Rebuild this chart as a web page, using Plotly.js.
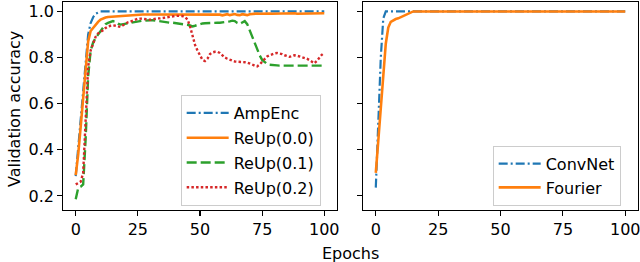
<!DOCTYPE html>
<html>
<head>
<meta charset="utf-8">
<script src="https://cdn.plot.ly/plotly-3.0.1.min.js"></script>
<style>html,body{margin:0;padding:0;background:#fff;}#chart{width:640px;height:262px;}</style>
</head>
<body>
<div id="chart"></div>
<script>
const epochs = [0,1,2,3,4,5,6,7,8,9,10,11,12,13,14,15,16,17,18,19,20,21,22,23,24,25,26,27,28,29,30,31,32,33,34,35,36,37,38,39,40,41,42,43,44,45,46,47,48,49,50,51,52,53,54,55,56,57,58,59,60,61,62,63,64,65,66,67,68,69,70,71,72,73,74,75,76,77,78,79,80,81,82,83,84,85,86,87,88,89,90,91,92,93,94,95,96,97,98,99,100];

const ampEnc = [
0.286,0.41,0.54,0.66,0.78,0.90,0.95,0.975,0.99,0.996,
1.0,1.0,1.0,0.999,1.0,1.0,1.0,1.0,0.999,1.0,
1.0,1.0,1.0,1.0,1.0,0.999,1.0,1.0,1.0,1.0,
1.0,1.0,0.999,1.0,1.0,1.0,1.0,1.0,1.0,0.999,
1.0,1.0,1.0,1.0,1.0,1.0,0.999,1.0,1.0,1.0,
1.0,1.0,1.0,1.0,1.0,0.998,1.0,1.0,1.0,1.0,
1.0,1.0,0.999,1.0,1.0,1.0,1.0,1.0,0.999,1.0,
1.0,1.0,1.0,1.0,1.0,1.0,1.0,0.998,1.0,1.0,
1.0,1.0,1.0,1.0,0.999,1.0,1.0,1.0,1.0,1.0,
1.0,0.999,1.0,1.0,1.0,1.0,1.0,1.0,1.0,1.0,
1.0];

const reUp00 = [
0.29,0.38,0.50,0.63,0.76,0.87,0.915,0.93,0.945,0.955,
0.965,0.97,0.974,0.976,0.977,0.977,0.978,0.978,0.979,0.979,
0.98,0.981,0.982,0.983,0.984,0.985,0.986,0.987,0.987,0.987,
0.987,0.987,0.986,0.987,0.987,0.987,0.986,0.987,0.987,0.987,
0.987,0.986,0.987,0.987,0.987,0.987,0.986,0.987,0.988,0.988,
0.988,0.988,0.987,0.988,0.988,0.987,0.988,0.987,0.986,0.983,
0.985,0.988,0.984,0.986,0.989,0.985,0.984,0.988,0.986,0.984,
0.988,0.99,0.99,0.991,0.99,0.991,0.99,0.991,0.991,0.99,
0.991,0.991,0.99,0.991,0.991,0.992,0.991,0.991,0.992,0.99,
0.99,0.989,0.99,0.99,0.991,0.991,0.99,0.992,0.992,0.992,
0.992];

const reUp01 = [
0.186,0.235,0.24,0.25,0.45,0.72,0.83,0.865,0.885,0.90,
0.92,0.935,0.945,0.95,0.955,0.958,0.955,0.947,0.943,0.945,
0.947,0.95,0.952,0.953,0.955,0.957,0.958,0.96,0.96,0.962,
0.962,0.962,0.96,0.958,0.956,0.954,0.953,0.952,0.951,0.951,
0.95,0.949,0.948,0.946,0.944,0.942,0.939,0.935,0.938,0.942,
0.946,0.948,0.949,0.95,0.95,0.951,0.951,0.951,0.951,0.952,
0.953,0.955,0.957,0.96,0.958,0.95,0.946,0.952,0.958,0.945,
0.918,0.89,0.86,0.835,0.81,0.79,0.78,0.772,0.769,0.767,
0.766,0.766,0.765,0.765,0.765,0.765,0.765,0.764,0.764,0.764,
0.764,0.764,0.764,0.764,0.764,0.764,0.765,0.765,0.765,0.765,
0.765];

const reUp02 = [
0.25,0.255,0.262,0.30,0.55,0.76,0.83,0.865,0.89,0.905,
0.91,0.918,0.928,0.935,0.938,0.94,0.938,0.934,0.933,0.94,
0.948,0.953,0.956,0.96,0.965,0.969,0.969,0.967,0.965,0.964,
0.964,0.966,0.969,0.97,0.97,0.972,0.975,0.977,0.979,0.98,
0.98,0.981,0.981,0.98,0.975,0.965,0.935,0.895,0.855,0.83,
0.81,0.79,0.785,0.795,0.815,0.822,0.825,0.825,0.82,0.81,
0.80,0.795,0.79,0.785,0.783,0.782,0.782,0.781,0.78,0.778,
0.775,0.77,0.765,0.762,0.77,0.782,0.795,0.805,0.81,0.815,
0.818,0.82,0.818,0.815,0.81,0.805,0.803,0.806,0.81,0.808,
0.805,0.803,0.80,0.795,0.789,0.78,0.775,0.785,0.80,0.812,
0.82];

const convNet = [
0.236,0.55,0.80,0.97,1.0,1.0,1.0,1.0,1.0,1.0,
1.0,1.0,1.0,1.0,1.0,1.0,1.0,1.0,1.0,1.0,
1.0,1.0,1.0,1.0,1.0,1.0,1.0,1.0,1.0,1.0,
1.0,1.0,1.0,1.0,1.0,1.0,1.0,1.0,1.0,1.0,
1.0,1.0,1.0,1.0,1.0,1.0,1.0,1.0,1.0,1.0,
1.0,1.0,1.0,1.0,1.0,1.0,1.0,1.0,1.0,1.0,
1.0,1.0,1.0,1.0,1.0,1.0,1.0,1.0,1.0,1.0,
1.0,1.0,1.0,1.0,1.0,1.0,1.0,1.0,1.0,1.0,
1.0,1.0,1.0,1.0,1.0,1.0,1.0,1.0,1.0,1.0,
1.0,1.0,1.0,1.0,1.0,1.0,1.0,1.0,1.0,1.0,
1.0];

const fourier = [
0.30,0.43,0.57,0.72,0.86,0.93,0.955,0.962,0.967,0.970,
0.975,0.98,0.986,0.99,0.995,1.0,1.0,1.0,1.0,1.0,
1.0,1.0,1.0,1.0,1.0,1.0,1.0,1.0,1.0,1.0,
1.0,1.0,1.0,1.0,1.0,1.0,1.0,1.0,1.0,1.0,
1.0,1.0,1.0,1.0,1.0,1.0,1.0,1.0,1.0,1.0,
1.0,1.0,1.0,1.0,1.0,1.0,1.0,1.0,1.0,1.0,
1.0,1.0,1.0,1.0,1.0,1.0,1.0,1.0,1.0,1.0,
1.0,1.0,1.0,1.0,1.0,1.0,1.0,1.0,1.0,1.0,
1.0,1.0,1.0,1.0,1.0,1.0,1.0,1.0,1.0,1.0,
1.0,1.0,1.0,1.0,1.0,1.0,1.0,1.0,1.0,1.0,
1.0];

const xTicks = [0,25,50,75,100];
const yTicks = [0.2,0.4,0.6,0.8,1.0];
const yTickLabels = ['0.2','0.4','0.6','0.8','1.0'];
const leftNames = ['AmpEnc','ReUp(0.0)','ReUp(0.1)','ReUp(0.2)'];
const rightNames = ['ConvNet','Fourier'];

const C = {blue:'#1f77b4', orange:'#ff7f0e', green:'#2ca02c', red:'#d62728'};
const FS = 16;

function tr(y, name, color, dash, width, xa, ya, leg, grp){
  return {x: epochs, y: y, name: name, type:'scatter', mode:'lines',
    line:{color:color, dash:dash, width:width}, xaxis:xa, yaxis:ya,
    legend: leg, legendgroup: grp, hoverinfo:'skip'};
}

const data = [
  tr(ampEnc, leftNames[0], C.blue, '9px,3px,2px,3px', 2.2, 'x','y','legend','a'),
  tr(reUp00, leftNames[1], C.orange, 'solid', 2.6, 'x','y','legend','b'),
  tr(reUp01, leftNames[2], C.green, '10px,4px', 2.4, 'x','y','legend','c'),
  tr(reUp02, leftNames[3], C.red, '2.5px,2.2px', 2.4, 'x','y','legend','d'),
  tr(convNet, rightNames[0], C.blue, '9px,3px,2px,3px', 2.2, 'x2','y2','legend2','e'),
  tr(fourier, rightNames[1], C.orange, 'solid', 2.6, 'x2','y2','legend2','f')
];

const axBase = {showline:true, mirror:true, linecolor:'#000', linewidth:1.1,
  ticks:'outside', ticklen:5, tickwidth:1.1, tickcolor:'#000',
  showgrid:false, zeroline:false, fixedrange:true, tickfont:{size:FS},
  ticklabeloverflow:'allow'};

const layout = {
  width:640, height:262,
  margin:{l:0,r:0,t:0,b:0},
  paper_bgcolor:'#fff', plot_bgcolor:'#fff',
  font:{family:'DejaVu Sans', size:FS, color:'#000'},
  xaxis: Object.assign({}, axBase, {domain:[0.0989,0.5261], range:[-5,105], tickvals:xTicks, anchor:'y'}),
  yaxis: Object.assign({}, axBase, {domain:[0.1985,0.9924], range:[0.139,1.041], tickvals:yTicks, ticktext:yTickLabels, anchor:'x'}),
  xaxis2: Object.assign({}, axBase, {domain:[0.5677,0.9964], range:[-5,105], tickvals:xTicks, anchor:'y2'}),
  yaxis2: Object.assign({}, axBase, {domain:[0.1985,0.9924], range:[0.139,1.041], tickvals:yTicks, showticklabels:false, anchor:'x2'}),
  legend:{x:0.2823, y:0.6375, xanchor:'left', yanchor:'top', bgcolor:'rgba(255,255,255,0.8)',
    bordercolor:'#cccccc', borderwidth:1, tracegroupgap:1, itemwidth:42, font:{size:FS}},
  legend2:{x:0.7698, y:0.4440, xanchor:'left', yanchor:'top', bgcolor:'rgba(255,255,255,0.8)',
    bordercolor:'#cccccc', borderwidth:1, tracegroupgap:0, itemwidth:42, font:{size:FS}},
  showlegend:true,
  annotations:[
    {text:'Validation accuracy', xref:'paper', yref:'paper', x:0.0234, y:0.584, textangle:-90,
      showarrow:false, xanchor:'center', yanchor:'middle', font:{size:FS}},
    {text:'Epochs', xref:'paper', yref:'paper', x:0.547, y:0.033,
      showarrow:false, xanchor:'center', yanchor:'middle', font:{size:FS}}
  ]
};

Plotly.newPlot('chart', data, layout, {displayModeBar:false, staticPlot:true});
</script>
</body>
</html>
